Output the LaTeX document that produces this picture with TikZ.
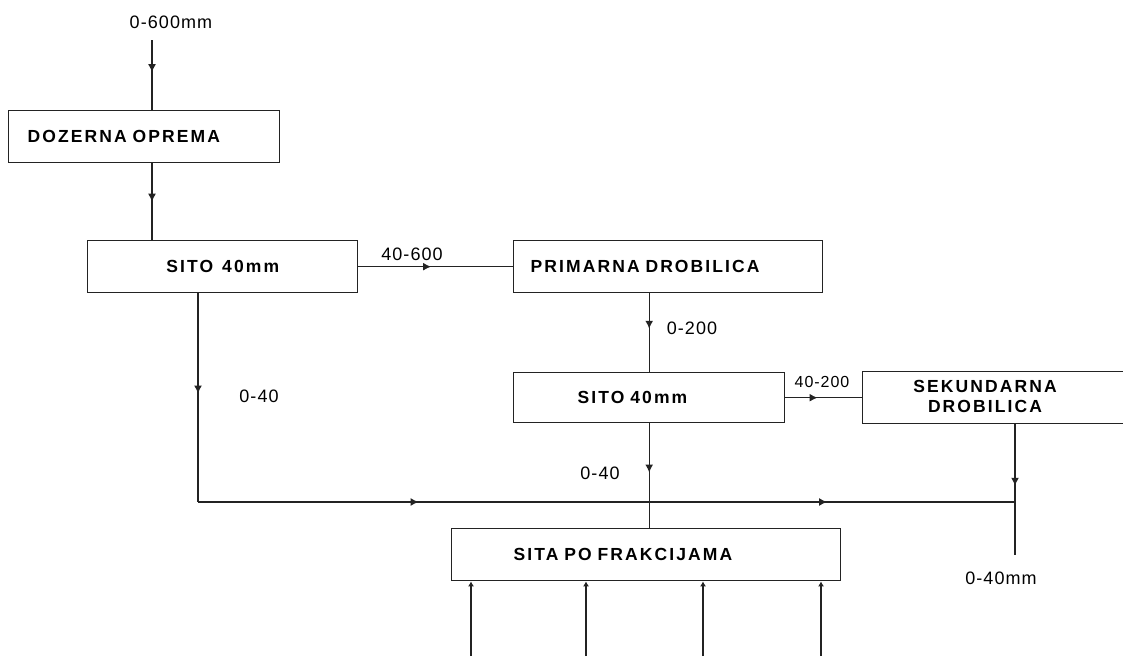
\documentclass[tikz,border=0pt]{standalone}
\usepackage{fontspec}
\setmainfont{Liberation Sans}
\newfontfamily\boxfont[LetterSpace=12, WordSpace=1.3]{Liberation Sans Bold}
\newfontfamily\lblfont[LetterSpace=6]{Liberation Sans}
\usetikzlibrary{arrows.meta,decorations.markings}
\definecolor{lineg}{RGB}{35,35,35}

\begin{document}
\begin{tikzpicture}[x=1pt, y=-1pt,
    box/.style={
            draw=lineg, line width=1.4pt, inner sep=0pt,
            minimum height=52pt, anchor=north west,
            font=\boxfont\fontsize{17.5}{20}\selectfont
        },
    lbl/.style={font=\lblfont\fontsize{18}{20}\selectfont, inner sep=0pt},
    flow/.style={draw=lineg, line width=1.4pt},
    tip/.style={postaction={decorate, decoration={markings,
                        mark=at position #1 with {\arrow{Latex[length=8pt,width=8pt]}}}}}
    ]
    \useasboundingbox (0,0) rectangle (1123,656);
    \clip (0,0) rectangle (1123,656);

    \node[box, text width=233pt, inner xsep=19pt, align=left] (doz) at (8,110) {DOZERNA OPREMA};
    \node[box, minimum width=270pt] (sito1) at (87,240) {SITO 40mm};
    \node[box, text width=275pt, inner xsep=17pt, align=left] (prim) at (513,240) {PRIMARNA DROBILICA};
    \node[box, text width=143pt, inner xsep=64pt, align=left, minimum height=50pt] (sito2) at (513,372) {SITO 40mm};
    \node[box, minimum width=300pt] (sek) at (862,371) {};
    \node[font=\boxfont\fontsize{17.5}{20}\selectfont, align=center, inner sep=0pt] (sektxt) at (985,396) {SEKUNDARNA\\DROBILICA};
    \node[box, text width=265pt, inner xsep=62pt, align=left] (sita) at (451,528) {SITA PO FRAKCIJAMA};

    \node[lbl] (in0) at (171,22) {0-600mm};
    \node[lbl] (l1) at (412,254) {40-600};
    \node[lbl] (l2) at (692,328) {0-200};
    \node[lbl, font=\lblfont\fontsize{16}{18}\selectfont] (l3) at (822,382) {40-200};
    \node[lbl] (l4) at (259,396) {0-40};
    \node[lbl] (l5) at (600,473) {0-40};
    \node[lbl] (l6) at (1001,578) {0-40mm};

    \coordinate (feed) at (152,40);
    \coordinate (jl) at (198,502);
    \coordinate (jr) at (1015,502);
    \coordinate (out) at (1015,555);

    \draw[flow, tip=0.46] (feed) -- (feed |- doz.north);
    \draw[flow, tip=0.5] (doz.south -| feed) -- (sito1.north -| feed);
    \draw[flow, tip=0.47] (sito1.east) -- (prim.west);
    \draw[flow, tip=0.45] (prim.south -| sito2.north) -- (sito2.north);
    \draw[flow, tip=0.42] (sito2.east) -- (sek.west);
    \draw[flow, tip=0.48] (sito1.south -| jl) -- (jl);
    \draw[flow, tip=0.27, tip=0.77] (jl) -- (jr);
    \draw[flow, tip=0.47] (sito2.south) -- (sito2.south |- sita.north);
    \draw[flow, tip=0.47] (sek.south -| jr) -- (out);

    \foreach \x [count=\i] in {471,586,703,821} {
        \coordinate (b\i) at (\x,656);
        \draw[flow, -{Latex[length=5pt,width=6pt]}] (b\i) -- (b\i |- sita.south);
    }
\end{tikzpicture}
\end{document}
